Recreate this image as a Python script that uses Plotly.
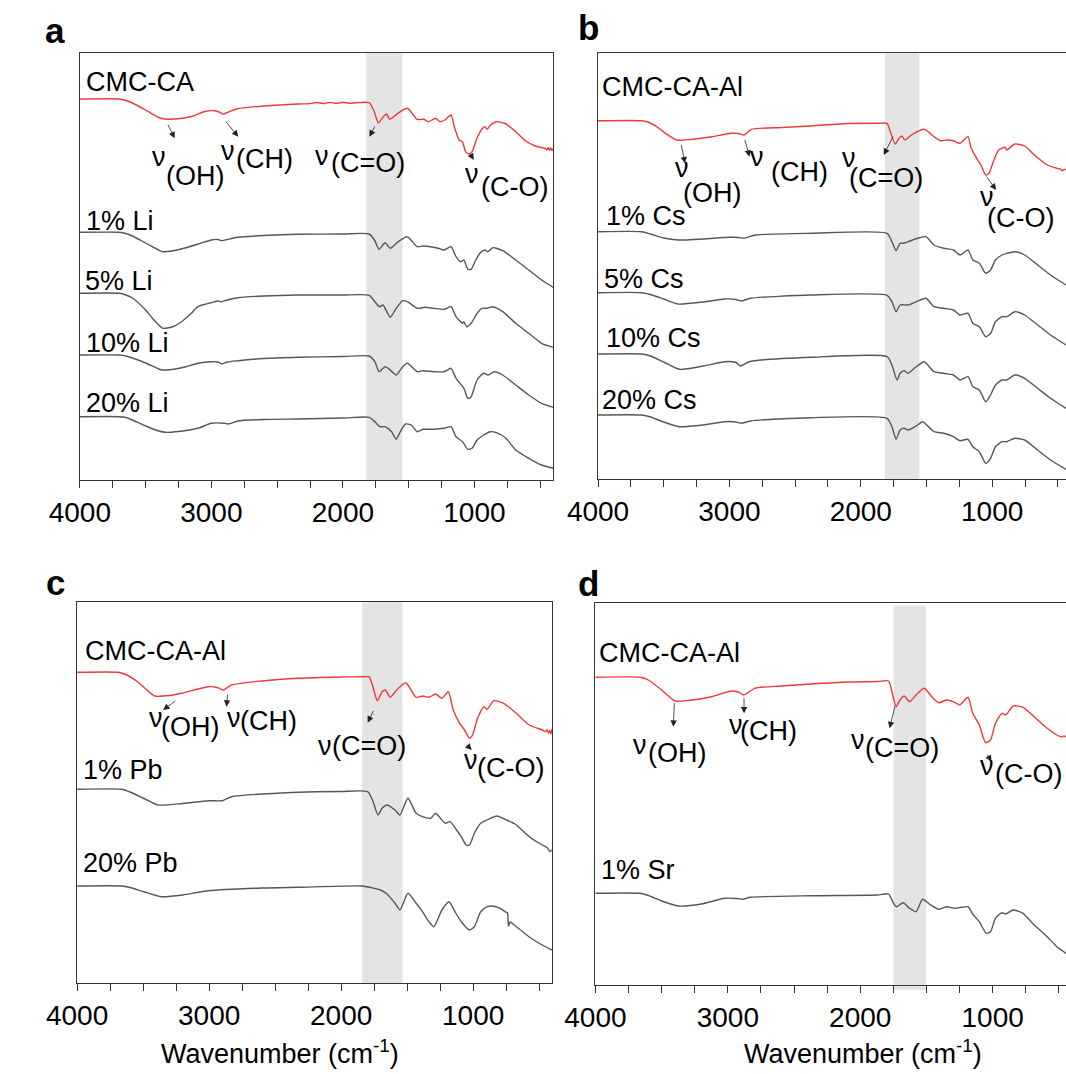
import plotly.graph_objects as go

# ---------------- FTIR spectra (wavenumber in cm-1, transmittance in a.u., stacked) ----------------
# Panel a: CMC-CA and Li-doped films
cmcca_wn = [4000, 3700, 3650, 3600, 3500, 3450, 3400, 3350, 3250, 3150, 3050, 2975, 2940, 2910, 2880, 2800,
            2600, 2340, 2250, 2200, 2150, 2100, 2050, 2000, 1950, 1900, 1800, 1767, 1730, 1693, 1668, 1644,
            1583, 1509, 1436, 1386, 1349, 1295, 1263, 1226, 1178, 1153, 1116, 1092, 1067, 1042, 1018, 981,
            944, 920, 902, 883, 833, 760, 686, 612, 539, 465, 450, 440, 430, 420, 410, 400]
cmcca_t = [401, 401, 399.5, 397, 390, 386, 382.5, 381, 381.3, 383.5, 388.5, 389.3, 388, 385.7, 387.5, 391.3,
           394, 396, 396.4, 397.5, 396.5, 397.6, 396.6, 397.8, 396.8, 397.2, 397.3, 390, 377.3, 383.3, 386, 380.7,
           386.7, 391.7, 380.7, 380.7, 378.3, 381.7, 378.3, 380, 385, 373.3, 360, 358.3, 348.3, 346, 348.3, 361.7,
           370.7, 373.3, 370.7, 374.3, 378.3, 376, 368.3, 359.3, 354, 351.7, 350.2, 352.4, 349.6, 352.2, 349.4, 351.5]

li1_wn = [4000, 3700, 3650, 3600, 3500, 3400, 3370, 3300, 3200, 3100, 3000, 2950, 2920, 2880, 2800, 2600,
          2340, 2000, 1800, 1760, 1725, 1680, 1640, 1580, 1510, 1435, 1390, 1310, 1275, 1230, 1178, 1140,
          1105, 1080, 1050, 1025, 990, 955, 920, 900, 860, 785, 686, 587, 490, 400]
li1_t = [267.7, 267.7, 266.5, 264, 257, 250, 248.3, 249, 252, 256, 260, 260.5, 259.3, 260.5, 262.7, 264.5,
         265.7, 266, 266, 260, 250.7, 257.3, 251.7, 258.3, 263.3, 253.3, 254, 252.7, 251.7, 250, 253.3, 243.3,
         238.3, 240, 230.7, 230.7, 240, 247.3, 250, 248.3, 252.3, 249.3, 240, 230, 220, 212.7]

li5_wn = [4000, 3700, 3650, 3600, 3500, 3450, 3400, 3370, 3300, 3227, 3150, 3103, 3000, 2950, 2924, 2880,
          2797, 2600, 2340, 2000, 1800, 1757, 1720, 1695, 1640, 1595, 1545, 1510, 1435, 1375, 1310, 1230,
          1178, 1140, 1090, 1080, 1060, 1025, 980, 944, 905, 860, 785, 686, 587, 490, 400]
li5_t = [206.7, 206.7, 205, 202, 190, 182, 175, 171.7, 173, 178.3, 187, 193.3, 197.3, 199, 198.3, 200,
         202.3, 204, 205, 205, 204.7, 198.3, 193.3, 195, 182.7, 191.7, 199.3, 198.3, 191.7, 192.7, 191.7, 190.7,
         193.3, 183.3, 176.7, 178.3, 173.3, 176.7, 186.7, 191.7, 191.7, 193.3, 188.3, 176.7, 166.7, 156.7, 152.7]

li10_wn = [4000, 3700, 3650, 3600, 3500, 3400, 3370, 3300, 3200, 3103, 3000, 2950, 2920, 2880, 2797, 2600,
           2340, 2000, 1800, 1757, 1725, 1680, 1655, 1595, 1545, 1510, 1435, 1390, 1310, 1230, 1178, 1140,
           1080, 1050, 1025, 980, 930, 895, 850, 785, 686, 587, 490, 400]
li10_t = [145, 145, 144, 142, 137, 131, 130, 130.5, 133, 136.7, 138.3, 138, 136, 138, 139.3, 141.5,
          142.7, 143.5, 144, 138.3, 128.3, 133.3, 131.7, 125, 133.3, 136.7, 128.3, 129.3, 128.3, 128.3, 131.7, 121.7,
          111.7, 101.7, 103.3, 120, 126.7, 125, 128.3, 125, 115, 105, 96.7, 92.7]

li20_wn = [4000, 3700, 3650, 3600, 3500, 3400, 3349, 3250, 3103, 3000, 2900, 2870, 2797, 2600, 2340, 2000,
           1800, 1757, 1720, 1680, 1630, 1595, 1570, 1525, 1480, 1435, 1390, 1310, 1230, 1178, 1140, 1090,
           1050, 1018, 980, 930, 880, 833, 760, 686, 587, 490, 400]
li20_t = [83.3, 83.3, 82.5, 80, 74, 69, 67.7, 68.5, 71.7, 76.7, 76.7, 76, 79, 80.5, 81, 82,
          82.7, 78.3, 73.3, 73.3, 68.3, 60.7, 66.7, 76, 75, 68.3, 70.7, 70.7, 71.7, 73.3, 63.3, 58.3,
          50.7, 51.7, 60, 65, 68.3, 67.3, 61.7, 50, 41.7, 35, 31.7]

# Panel b: CMC-CA-Al and Cs-doped films
alb_wn = [4000, 3667, 3620, 3550, 3480, 3401, 3300, 3135, 2984, 2930, 2889, 2832, 2600, 2378, 2100, 1872,
          1800, 1775, 1738, 1709, 1689, 1664, 1615, 1517, 1443, 1393, 1344, 1295, 1246, 1184, 1160, 1110,
          1086, 1049, 1024, 987, 950, 901, 889, 827, 753, 679, 580, 507, 480, 465, 450, 438]
alb_t = [379.3, 379.3, 378, 373, 366, 360, 360.5, 363.3, 366.7, 366.5, 365, 370.7, 372.5, 374, 376.5, 376.7,
         376.7, 368.3, 356, 361.7, 364, 360, 365, 370.7, 363.3, 359.3, 360, 359.3, 356.7, 363.3, 351.7, 340,
         335, 325, 326.7, 340, 350, 352.7, 350, 356, 354, 345, 335, 331.7, 330.8, 329.2, 330.9, 330]

cs1_wn = [4000, 3667, 3600, 3500, 3390, 3200, 3000, 2930, 2889, 2800, 2378, 1800, 1763, 1731, 1701, 1677,
          1640, 1566, 1504, 1443, 1369, 1295, 1246, 1184, 1147, 1098, 1049, 1012, 975, 925, 889, 827,
          753, 654, 556, 438]
cs1_t = [268.3, 268.3, 266, 262, 260, 261, 262.7, 262.5, 261.7, 265, 266.7, 266.7, 258.3, 249.3, 256.7, 256.7,
         258.3, 261.7, 263.3, 255, 251.7, 250, 245, 250, 240, 236.7, 226.7, 230, 240, 245, 246.7, 248.3,
         245, 235, 225, 215]

cs5_wn = [4000, 3667, 3600, 3500, 3393, 3200, 3035, 2950, 2908, 2840, 2378, 1800, 1763, 1731, 1701, 1640,
          1578, 1504, 1443, 1369, 1295, 1246, 1184, 1147, 1098, 1049, 1012, 975, 925, 889, 827, 753,
          654, 556, 438]
cs5_t = [207.3, 207.3, 205.5, 201, 196, 198, 201, 200.5, 199, 201.7, 205, 204.7, 198.3, 188.3, 195, 195,
         198.3, 201.7, 193.3, 191.7, 190, 185, 186.7, 176.7, 173.3, 163.3, 166.7, 178.3, 183.3, 183.3, 188.3, 185,
         175, 165, 155]

cs10_wn = [4000, 3667, 3600, 3500, 3381, 3200, 3035, 2950, 2915, 2850, 2378, 1800, 1763, 1724, 1701, 1670,
           1640, 1578, 1517, 1443, 1369, 1295, 1246, 1184, 1147, 1098, 1049, 1012, 975, 925, 889, 827,
           753, 654, 556, 438]
cs10_t = [146, 146, 144, 138, 130.7, 134, 138.3, 137.5, 134, 138.3, 142.7, 143.3, 135, 120, 126.7, 129.3,
          126.7, 133.3, 138.3, 128.3, 126.7, 125, 120, 123.3, 113.3, 110, 98.3, 105, 115, 120, 120, 125,
          121.7, 111.7, 101.7, 91.7]

cs20_wn = [4000, 3667, 3600, 3500, 3381, 3200, 3035, 2950, 2908, 2840, 2378, 1800, 1763, 1731, 1701, 1670,
           1640, 1578, 1529, 1443, 1369, 1295, 1246, 1184, 1147, 1098, 1049, 1012, 975, 925, 889, 827,
           753, 654, 556, 438]
cs20_t = [85, 85, 83, 78, 73.3, 75, 78.3, 78, 76.7, 79, 82.3, 81.7, 73.3, 60.7, 70, 71.7,
          70, 74, 78.3, 68.3, 66.7, 63.3, 59.3, 60.7, 53.3, 48.3, 36.7, 41.7, 53.3, 58.3, 58.3, 61.7,
          60, 50, 40, 30.7]

# Panel c: CMC-CA-Al and Pb-doped films
alc_wn = [4000, 3691, 3640, 3550, 3480, 3413, 3300, 3210, 3007, 2940, 2893, 2830, 2600, 2323, 2000, 1817,
          1788, 1763, 1726, 1690, 1665, 1629, 1579, 1511, 1432, 1384, 1335, 1285, 1237, 1188, 1151, 1102,
          1065, 1028, 1004, 967, 918, 893, 844, 770, 673, 575, 477, 450, 440, 428, 418, 410, 403]
alc_t = [327.7, 327.7, 326, 319, 311, 304, 304.5, 306.7, 313.3, 312.5, 310, 315, 319, 321.7, 323, 323.3,
         323.3, 315, 299.3, 308.3, 310, 302.7, 310, 317.3, 302.7, 304, 302.7, 306, 301.7, 308.3, 290, 276.7,
         270, 261.7, 265, 281.7, 293.3, 290.7, 299.3, 296.7, 286.7, 275, 270, 268.3, 270.4, 266.7, 269.5, 266, 271]

pb1_wn = [4000, 3663, 3600, 3500, 3387, 3200, 3007, 2900, 2830, 2323, 2000, 1800, 1763, 1721, 1690, 1653,
          1592, 1555, 1494, 1432, 1384, 1322, 1285, 1212, 1175, 1126, 1090, 1053, 1028, 991, 943, 869,
          820, 746, 673, 658, 640, 575, 477, 440, 420, 403]
pb1_t = [210.7, 210.7, 208, 202, 195, 196.5, 199.3, 199.3, 203.3, 207.7, 208.5, 208.3, 200, 185, 191.7, 195,
         190, 185, 201.7, 186.7, 183.3, 181.7, 186.7, 176.7, 178.3, 170, 163.3, 155, 155, 166.7, 176.7, 181.7,
         184, 180, 175, 173.3, 171, 163.3, 155, 152.5, 148.5, 150]

pb20_wn = [4000, 3663, 3600, 3500, 3362, 3200, 3007, 2600, 2323, 1843, 1751, 1702, 1653, 1592, 1555, 1494,
           1432, 1384, 1335, 1298, 1237, 1182, 1138, 1090, 1028, 991, 943, 893, 857, 795, 758, 740,
           733, 720, 690, 650, 575, 477, 403]
pb20_t = [114, 114, 112.5, 108.5, 103.3, 105, 109.3, 112, 112.7, 114, 111.7, 110, 106, 96.7, 90, 106.7,
          96.7, 88.3, 78.3, 73.3, 90, 98.3, 88.3, 78.3, 70, 73.3, 88.3, 93.3, 94, 91.7, 88.3, 87,
          74, 78, 75, 71, 63, 55, 50]

# Panel d: CMC-CA-Al and Sr-doped film
ald_wn = [4000, 3662, 3600, 3500, 3399, 3300, 3122, 2972, 2920, 2878, 2797, 2600, 2371, 2100, 1870, 1786,
          1761, 1729, 1700, 1668, 1627, 1578, 1517, 1456, 1407, 1346, 1297, 1248, 1187, 1150, 1101, 1053,
          1016, 979, 930, 901, 845, 771, 686, 588, 515, 480, 460, 446]
ald_t = [322.7, 322.7, 320, 310, 299, 299.5, 303.3, 309, 308, 305, 311.7, 314, 316, 318, 318.5, 319,
         308.3, 293.3, 300, 304, 298.3, 305, 311.7, 302.7, 297.3, 300, 298.3, 295, 302.7, 286.7, 275, 257.3,
         260, 276.7, 286.7, 285, 294, 292.7, 283.3, 271.7, 265, 263.2, 264.1, 262.7]

sr1_wn = [4000, 3662, 3600, 3500, 3373, 3200, 3023, 2930, 2885, 2830, 2371, 1870, 1786, 1749, 1724, 1676,
          1627, 1578, 1529, 1468, 1407, 1346, 1284, 1236, 1187, 1150, 1101, 1048, 1016, 979, 930, 901,
          845, 771, 686, 588, 515, 446]
sr1_t = [106.7, 106.7, 104.5, 99, 94, 96, 101.7, 101.5, 100.7, 102.7, 104.3, 105, 106, 96.7, 93.3, 97.3,
         91.7, 88.3, 100.7, 95, 90.7, 93.3, 91.7, 92.7, 93.3, 86, 78.3, 66.7, 68.3, 81.7, 87.3, 86,
         90, 86.7, 75, 63.3, 53.3, 46.7]

# Highlighted carbonyl band (cm-1) for each panel
band_a = [1822, 1548]
band_b = [1816, 1554]
band_c = [1841, 1535]
band_d = [1749, 1504]

# ---------------- figure ----------------
W, H = 1066, 1074
FONT = "Liberation Sans, Arial, sans-serif"
RED = "#ef3a3a"
GRAY = "#575757"
AXC = "#333333"


def px(x):
    return x / W


def py(y):
    return 1 - y / H


fig = go.Figure()

series = [
    ("1", cmcca_wn, cmcca_t, RED), ("1", li1_wn, li1_t, GRAY), ("1", li5_wn, li5_t, GRAY),
    ("1", li10_wn, li10_t, GRAY), ("1", li20_wn, li20_t, GRAY),
    ("2", alb_wn, alb_t, RED), ("2", cs1_wn, cs1_t, GRAY), ("2", cs5_wn, cs5_t, GRAY),
    ("2", cs10_wn, cs10_t, GRAY), ("2", cs20_wn, cs20_t, GRAY),
    ("3", alc_wn, alc_t, RED), ("3", pb1_wn, pb1_t, GRAY), ("3", pb20_wn, pb20_t, GRAY),
    ("4", ald_wn, ald_t, RED), ("4", sr1_wn, sr1_t, GRAY),
]
for k, wn, t, col in series:
    sfx = "" if k == "1" else k
    fig.add_trace(go.Scatter(
        x=wn, y=t, mode="lines",
        line=dict(color=col, width=1.4, shape="spline", smoothing=0.6),
        xaxis="x" + sfx, yaxis="y" + sfx, showlegend=False, hoverinfo="skip"))


def x_axis(domain, rng, anchor):
    return dict(
        domain=domain, range=rng, anchor=anchor, showgrid=False, zeroline=False,
        showline=True, linecolor=AXC, linewidth=1.3, mirror=True,
        ticks="outside", ticklen=7, tickwidth=1.2, tickcolor=AXC,
        tick0=0, dtick=1000, tickfont=dict(family=FONT, size=28, color="black"),
        minor=dict(ticks="outside", ticklen=7, tickwidth=1.2, tickcolor=AXC, tick0=0, dtick=250),
    )


def y_axis(domain, rng, anchor, mirror):
    return dict(
        domain=domain, range=rng, anchor=anchor, showgrid=False, zeroline=False,
        showline=True, linecolor=AXC, linewidth=1.3, mirror=mirror,
        ticks="", showticklabels=False,
    )


fig.update_layout(
    width=W, height=H, margin=dict(l=0, r=0, t=0, b=0),
    paper_bgcolor="white", plot_bgcolor="white",
    font=dict(family=FONT, color="black"),
    xaxis=x_axis([px(50.3), px(538)], [4000, 400], "y"),
    yaxis=y_axis([py(480), py(52.7)], [20, 447.3], "x", True),
    xaxis2=x_axis([px(584), 1], [4000, 438], "y2"),
    yaxis2=y_axis([py(479.3), py(53.3)], [20.7, 446.7], "x2", False),
    xaxis3=x_axis([px(47.5), px(537)], [4000, 400], "y3"),
    yaxis3=y_axis([py(983.3), py(601.7)], [16.7, 398.3], "x3", True),
    xaxis4=x_axis([px(581.3), 1], [4000, 446], "y4"),
    yaxis4=y_axis([py(985), py(602.7)], [15, 397.3], "x4", False),
)

# shaded C=O band
shapes = []
for sfx, band, y0, y1 in [("", band_a, 0, 1), ("2", band_b, 0, 1), ("3", band_c, 0, 1), ("4", band_d, -0.013, 0.993)]:
    shapes.append(dict(type="rect", xref="x" + sfx, yref="y" + sfx + " domain",
                       x0=band[0], x1=band[1], y0=y0, y1=y1,
                       fillcolor="#e4e4e4", line=dict(width=0), layer="below"))
fig.update_layout(shapes=shapes)

ann = []

# sample names
sample_labels = [
    ("CMC-CA", 55, 82), ("1% Li", 54.4, 221.3), ("5% Li", 53.4, 280.8), ("10% Li", 55, 342.5), ("20% Li", 54.4, 403),
    ("CMC-CA-Al", 586.4, 87.5), ("1% Cs", 589.8, 215.8), ("5% Cs", 588, 279), ("10% Cs", 590, 338.3), ("20% Cs", 586.4, 400),
    ("CMC-CA-Al", 53.4, 650.8), ("1% Pb", 51.7, 770), ("20% Pb", 51.7, 863.3),
    ("CMC-CA-Al", 583, 653.3), ("1% Sr", 584.7, 870),
]
for txt, x, y in sample_labels:
    ann.append(dict(text=txt, x=px(x), y=py(y), xref="paper", yref="paper", xanchor="left", yanchor="middle",
                    showarrow=False, font=dict(size=27, family=FONT, color="black")))

# vibration-mode labels: (group, nu centre, group centre)
mode_labels = [
    ("(OH)", (131.7, 159.2), (168.7, 175.8)), ("(CH)", (203, 153.3), (241, 159.2)),
    ("(C=O)", (299.6, 158.3), (346.8, 163.3)), ("(C-O)", (453.7, 175.8), (497.6, 186.7)),
    ("(OH)", (671, 170), (701, 193.3)), ("(CH)", (748, 159.2), (791.5, 172.5)),
    ("(C=O)", (843, 160), (881, 177.5)), ("(C-O)", (985, 199), (1019, 218)),
    ("(OH)", (129, 720), (163.6, 726.7)), ("(CH)", (209, 720), (244.5, 720.8)),
    ("(C=O)", (303, 747.5), (348, 746)), ("(C-O)", (453.5, 761.5), (494, 767.5)),
    ("(OH)", (627.5, 746.7), (665, 752.5)), ("(CH)", (726.5, 726.7), (760, 730.8)),
    ("(C=O)", (852, 742), (897.5, 747.5)), ("(C-O)", (985, 767.5), (1027, 774)),
]
for grp, (nx, ny), (gx, gy) in mode_labels:
    ann.append(dict(text="ν", x=px(nx), y=py(ny - 2), xref="paper", yref="paper", xanchor="center",
                    yanchor="middle", showarrow=False, font=dict(size=27, family=FONT, color="black")))
    ann.append(dict(text=grp, x=px(gx), y=py(gy), xref="paper", yref="paper", xanchor="center",
                    yanchor="middle", showarrow=False, font=dict(size=27, family=FONT, color="black")))

# pointer arrows: (tail, head)
pointers = [
    ((140.5, 123.3), (148, 138.3)), ((199.7, 120), (213.5, 136.7)), ((354.7, 125), (348.5, 136.7)), ((452, 153), (456, 160)),
    ((669.5, 143.3), (673.6, 163.3)), ((735, 138.3), (740, 156.7)), ((888.3, 135), (878.3, 155)), ((983.3, 175), (994, 190)),
    ((149.8, 700), (136, 710)), ((202.5, 693.3), (201.4, 706.7)), ((353.3, 709.3), (346.7, 722.7)), ((447.3, 743.3), (454, 750)),
    ((662.6, 701.7), (661.6, 726.7)), ((734.4, 696.7), (734.4, 713.3)), ((890, 705), (884.3, 728.3)), ((984.3, 753.3), (989.3, 761.7)),
]
for (tx, ty), (hx, hy) in pointers:
    ann.append(dict(text="", x=px(hx), y=py(hy), xref="paper", yref="paper",
                    ax=tx - hx, ay=ty - hy, axref="pixel", ayref="pixel",
                    showarrow=True, arrowhead=2, arrowsize=1.6, arrowwidth=0.8, arrowcolor="#222",
                    standoff=0, startstandoff=0))

# panel letters
for txt, x, y in [("a", 25, 30.5), ("b", 574.4, 27), ("c", 25, 582), ("d", 574.4, 583)]:
    ann.append(dict(text="<b>" + txt + "</b>", x=px(x), y=py(y), xref="paper", yref="paper",
                    xanchor="center", yanchor="middle", showarrow=False,
                    font=dict(size=35, family=FONT, color="black")))

# axis titles for the bottom row
for x in (256.5, 856.6):
    ann.append(dict(text="Wavenumber (cm<sup>-1</sup>)", x=px(x), y=py(1052), xref="paper", yref="paper",
                    xanchor="center", yanchor="middle", showarrow=False,
                    font=dict(size=27, family=FONT, color="black")))

fig.update_layout(annotations=ann)
fig.write_html("out.html")
